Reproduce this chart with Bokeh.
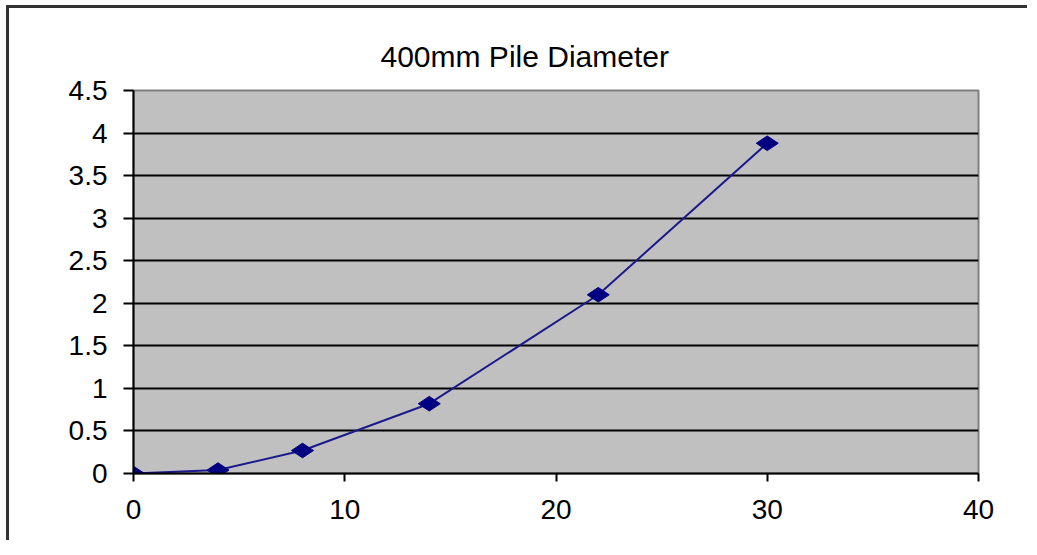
import math
from bokeh.plotting import figure
from bokeh.models import Range1d, FixedTicker, Title
from bokeh.embed import file_html
from bokeh.resources import INLINE

# data
load_x = [0, 4, 8, 14, 22, 30]
settle_y = [0.0, 0.04, 0.27, 0.82, 2.1, 3.88]

x_ticks = [0, 10, 20, 30, 40]
x_tick_labels = ["0", "10", "20", "30", "40"]
y_ticks = [0, 0.5, 1, 1.5, 2, 2.5, 3, 3.5, 4, 4.5]
y_tick_labels = ["0", "0.5", "1", "1.5", "2", "2.5", "3", "3.5", "4", "4.5"]
title_text = "400mm  Pile Diameter"

FONT = "Liberation Sans"

p = figure(width=1021, height=535, output_backend="svg", toolbar_location=None,
           x_range=Range1d(0, 40), y_range=Range1d(0, 4.5),
           min_border_left=124, min_border_right=52, min_border_top=82,
           min_border_bottom=70,
           styles={"border-left": "3px solid #333333", "border-top": "3px solid #333333",
                   "margin-left": "6px", "margin-top": "5px"})

t = Title(text=title_text, align="left", offset=247, standoff=35,
          text_font=FONT, text_font_size="30px", text_font_style="normal",
          text_color="black")
p.add_layout(t, "above")

p.background_fill_color = "#C0C0C0"
p.border_fill_color = "white"
p.outline_line_color = "#808080"
p.outline_line_width = 2

p.xgrid.grid_line_color = None
p.ygrid.grid_line_color = "black"
p.ygrid.grid_line_width = 2
p.ygrid.ticker = FixedTicker(ticks=y_ticks)

p.xaxis.ticker = FixedTicker(ticks=x_ticks)
p.yaxis.ticker = FixedTicker(ticks=y_ticks)
p.xaxis.major_label_overrides = {v: s for v, s in zip(x_ticks, x_tick_labels)}
p.yaxis.major_label_overrides = {v: s for v, s in zip(y_ticks, y_tick_labels)}

for ax in (p.xaxis, p.yaxis):
    ax.axis_line_color = "black"
    ax.axis_line_width = 2
    ax.major_tick_line_color = "black"
    ax.major_tick_line_width = 2
    ax.minor_tick_line_color = None
    ax.major_tick_in = 0
    ax.major_label_text_font = FONT
    ax.major_label_text_font_size = "28px"
    ax.major_label_text_color = "black"

p.xaxis.major_tick_out = 8
p.xaxis.major_label_standoff = 18
p.yaxis.major_tick_out = 10
p.yaxis.major_label_standoff = 16

p.line(load_x, settle_y, line_color="#1a1a8c", line_width=2)
p.scatter(load_x, settle_y, marker="diamond", size=22, angle=math.pi / 2,
          fill_color="#000080", line_color="#000080")

open("out.html", "w").write(file_html(p, INLINE))
